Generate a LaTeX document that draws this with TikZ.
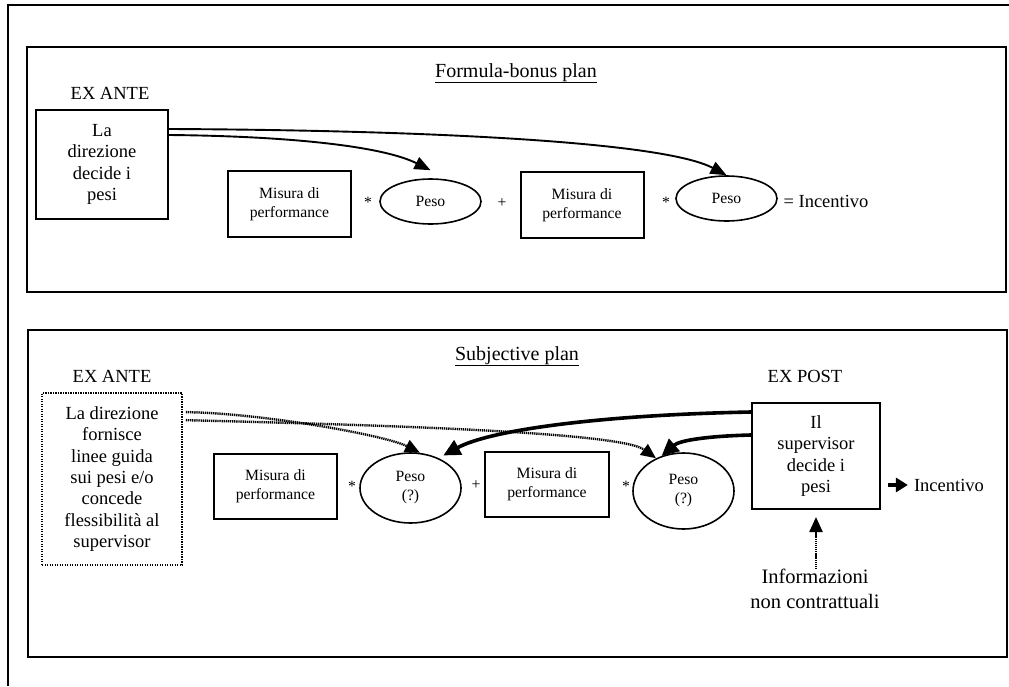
\documentclass[tikz,border=0pt]{standalone}
\usepackage{fontspec}
\setmainfont{Liberation Serif}
\usetikzlibrary{arrows.meta,shapes.geometric}
\newcommand\myfsS{\fontsize{15.7pt}{19pt}\selectfont}
\newcommand\myfsM{\fontsize{18.5pt}{21.4pt}\selectfont}
\newcommand\myfsL{\fontsize{20.5pt}{24.5pt}\selectfont}
\newcommand\myfsT{\fontsize{20pt}{24pt}\selectfont}
\begin{document}
\begin{tikzpicture}[x=1pt,y=1pt,
  frame/.style={line width=1.8pt},
  panel/.style={draw,line width=2pt},
  mbox/.style={draw,line width=2pt,align=center,font=\myfsS,inner sep=0pt,minimum width=123pt,minimum height=66pt},
  wt/.style={draw,ellipse,line width=1.6pt,align=center,font=\myfsS,inner sep=0pt,minimum width=101pt},
  dbox/.style={draw,line width=2pt,align=center,font=\myfsM,inner sep=0pt},
  lbl/.style={font=\myfsM,inner sep=0pt,anchor=base},
  op/.style={font=\myfsS,inner sep=0pt,anchor=base},
  ttl/.style={font=\myfsT,inner sep=0pt,anchor=base},
  thinarr/.style={line width=1.9pt,-{Triangle[length=16pt,width=13pt]}},
  thickarr/.style={line width=3.6pt,-{Triangle[length=17pt,width=16pt]}},
  dotarr/.style={line width=2.4pt,dash pattern=on 1.3pt off 0.8pt,-{Triangle[length=15pt,width=13pt]}}]
\useasboundingbox (0,0) rectangle (1009,-686);
% outer frame
\draw[frame] (8,-686) -- (8,-5) -- (1009,-5);
% panels
\draw[panel] (27,-47) rectangle (1006,-292);
\draw[panel] (28,-330) rectangle (1007,-657);

% ---------- upper panel ----------
\node[ttl] (t1) at (516,-77) {\underline{Formula-bonus plan}};
\node[lbl] (xa1) at (110,-99) {EX ANTE};
\node[dbox,minimum width=132pt,minimum height=109pt] (dir) at (102,-164.5) {La\\direzione\\decide i\\pesi};
\node[mbox] (m1) at (289.5,-204) {Misura di\\performance};
\node[op] (s1) at (368,-207) {*};
\node[wt,minimum height=45pt] (e1) at (430.5,-201.5) {Peso};
\node[op] (p1) at (502,-207) {+};
\node[mbox] (m2) at (582,-205) {Misura di\\performance};
\node[op] (s2) at (666,-207) {*};
\node[wt,minimum height=45pt] (e2) at (726.5,-198.5) {Peso};
\node[lbl] (i1) at (826,-207) {= Incentivo};

\draw[thinarr] ([yshift=-20pt]dir.north east) .. controls (400,-130) and (660,-140) .. (e2.north);
\draw[thinarr] ([yshift=-26pt]dir.north east) .. controls (280,-136) and (380,-145) .. ([yshift=8pt]e1.north);

% ---------- lower panel ----------
\node[ttl] (t2) at (517,-360) {\underline{Subjective plan}};
\node[lbl] (xa2) at (112,-382) {EX ANTE};
\node[lbl] (xp) at (805,-382) {EX POST};
\node[dbox,line width=1.7pt,dash pattern=on 1.4pt off 1.1pt,minimum width=140pt,minimum height=172pt] (gd) at (112,-479)
  {La direzione\\fornisce\\linee guida\\sui pesi e/o\\concede\\flessibilità al\\supervisor};
\node[mbox,minimum height=65pt] (m3) at (275.5,-486.5) {Misura di\\performance};
\node[op] (s3) at (352,-491) {*};
\node[wt,minimum height=70pt] (e3) at (410.5,-488) {Peso\\(?)};
\node[op] (p2) at (476,-489) {+};
\node[mbox,minimum width=124pt,minimum height=65pt] (m4) at (547,-484.5) {Misura di\\performance};
\node[op] (s4) at (626,-491) {*};
\node[wt,minimum height=76pt] (e4) at (683.5,-491) {Peso\\(?)};
\node[dbox,minimum width=128pt,minimum height=106pt] (sup) at (816,-456) {Il\\supervisor\\decide i\\pesi};
\node[lbl] (i2) at (949,-491) {Incentivo};
\node[font=\myfsL,align=center,inner sep=0pt] (info) at (815,-589) {Informazioni\\non contrattuali};

\draw[dotarr] ([shift={(3pt,-20pt)}]gd.north east) .. controls (260,-413) and (385,-435) .. (e3.75);
\draw[dotarr] ([shift={(3pt,-28pt)}]gd.north east) .. controls (380,-425) and (620,-432) .. (e4.130);
\draw[thickarr] ([yshift=-10pt]sup.north west) .. controls (600,-415) and (490,-430) .. ([yshift=5pt]e3.40);
\draw[thickarr] ([yshift=-33pt]sup.north west) .. controls (710,-436) and (680,-440) .. (e4.122);
\draw[dotarr,shorten >=7pt] (sup.south |- info.north) -- (sup.south);
\draw[thickarr,line width=3.2pt,-{Triangle[length=12pt,width=14pt]},shorten <=7pt,shorten >=6pt] (i2.west -| sup.east) -- (i2.west);
\end{tikzpicture}
\end{document}
